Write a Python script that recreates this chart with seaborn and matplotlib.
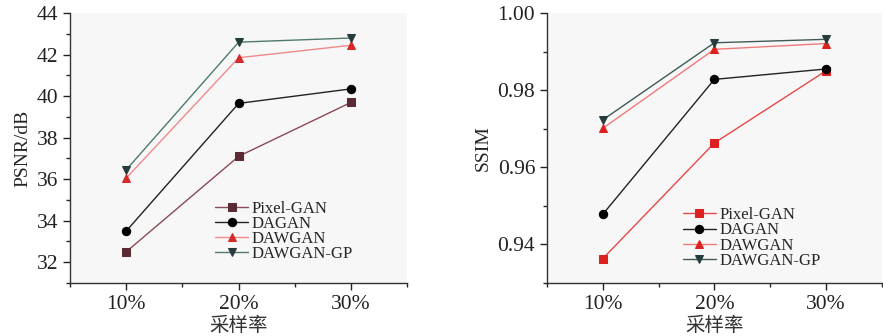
import matplotlib
matplotlib.use("Agg")
import seaborn as sns
from matplotlib import pyplot as plt
from matplotlib.ticker import MultipleLocator

rates = ["10%", "20%", "30%"]
methods = ["Pixel-GAN", "DAGAN", "DAWGAN", "DAWGAN-GP"]

psnr_pixel = [32.5, 37.1, 39.7]
psnr_dagan = [33.5, 39.65, 40.35]
psnr_dawgan = [36.05, 41.85, 42.45]
psnr_dawgan_gp = [36.45, 42.6, 42.8]

ssim_pixel = [0.9363, 0.9663, 0.9850]
ssim_dagan = [0.9478, 0.9828, 0.9855]
ssim_dawgan = [0.9701, 0.9906, 0.9921]
ssim_dawgan_gp = [0.9723, 0.9923, 0.9932]

markers = ["s", "o", "^", "v"]
# (line colour, marker colour) per method, per panel
left_colors = [("#8a4a55", "#5a2a35"), ("#222222", "#000000"),
               ("#f08a8a", "#d42a2a"), ("#4f7a6a", "#263c3c")]
right_colors = [("#e84848", "#dd2020"), ("#222222", "#000000"),
                ("#f07a7a", "#dd2020"), ("#3f5a55", "#263c3c")]

sns.set_style("ticks")
plt.rcParams["font.family"] = ["Liberation Serif", "Noto Sans CJK SC"]
plt.rcParams["axes.unicode_minus"] = False

fig = plt.figure(figsize=(8.83, 3.36), dpi=100)
ax1 = fig.add_axes([0.0793, 0.158, 0.382, 0.803])
ax2 = fig.add_axes([0.6195, 0.158, 0.379, 0.803])


def draw_panel(ax, series, colors, ylabel, ylim, major, minor, fmt, legend_anchor):
    for name, vals, m, (lc, mc) in zip(methods, series, markers, colors):
        sns.lineplot(x=rates, y=vals, ax=ax, color=lc, marker=m, markersize=6,
                     markerfacecolor=mc, markeredgecolor=mc, linewidth=1,
                     label=name, sort=False)
    ax.set_facecolor("#f7f7f7")
    ax.set_xlim(-0.5, 2.5)
    ax.set_ylim(*ylim)
    ax.yaxis.set_major_locator(MultipleLocator(major))
    ax.yaxis.set_minor_locator(MultipleLocator(minor))
    ax.xaxis.set_minor_locator(MultipleLocator(1, offset=0.5))
    ax.yaxis.set_major_formatter(fmt)
    ax.tick_params(which="major", length=5, width=1, labelsize=15.5, colors="#222222")
    ax.tick_params(which="minor", length=3, width=1)
    for s in ["top", "right"]:
        ax.spines[s].set_visible(False)
    for s in ["left", "bottom"]:
        ax.spines[s].set_color("#333333")
        ax.spines[s].set_linewidth(1)
    ax.set_xlabel("采样率", fontsize=14, labelpad=1, color="#333333",
                  family=["Noto Sans CJK SC", "Liberation Serif"])
    ax.set_ylabel(ylabel, fontsize=14, labelpad=4)
    ax.legend(loc="upper left", bbox_to_anchor=legend_anchor, frameon=False,
              fontsize=12, labelspacing=-0.05, handletextpad=0.2,
              handlelength=2.0, borderaxespad=0)


draw_panel(ax1, [psnr_pixel, psnr_dagan, psnr_dawgan, psnr_dawgan_gp],
           left_colors, "PSNR/dB", (31, 44), 2, 1, "{x:.0f}", (0.41, 0.33))
draw_panel(ax2, [ssim_pixel, ssim_dagan, ssim_dawgan, ssim_dawgan_gp],
           right_colors, "SSIM", (0.93, 1.0), 0.02, 0.01, "{x:.2f}", (0.385, 0.305))

fig.savefig("out.png", dpi=100)
